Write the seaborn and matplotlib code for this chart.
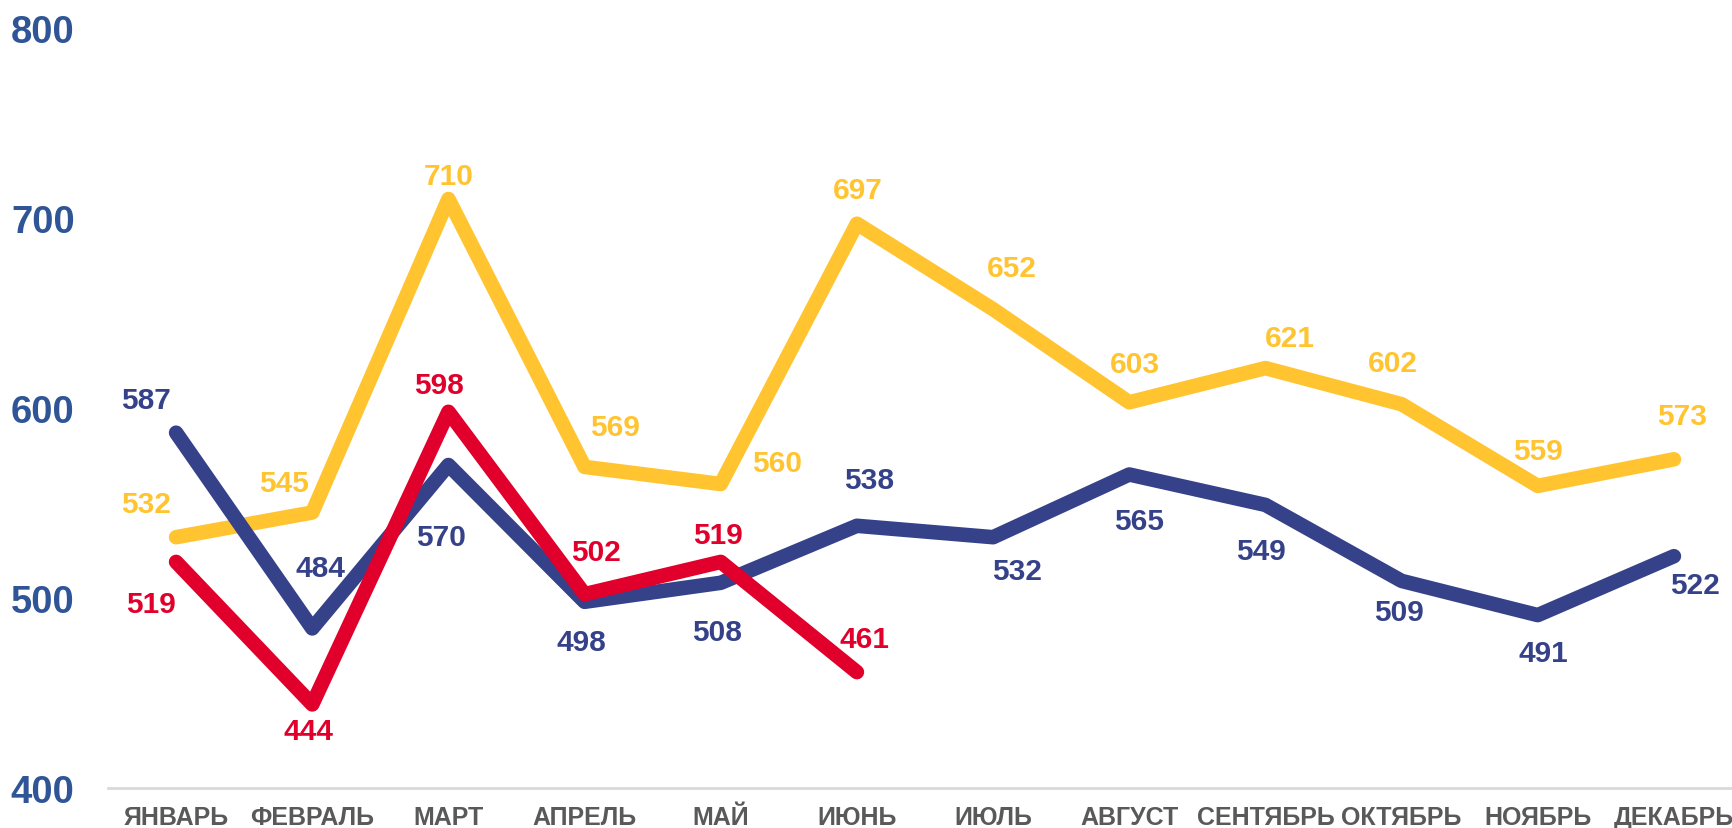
import matplotlib
matplotlib.use("Agg")
import matplotlib.pyplot as plt
import seaborn as sns
import pandas as pd

months = ["ЯНВАРЬ", "ФЕВРАЛЬ", "МАРТ", "АПРЕЛЬ", "МАЙ", "ИЮНЬ", "ИЮЛЬ",
          "АВГУСТ", "СЕНТЯБРЬ", "ОКТЯБРЬ", "НОЯБРЬ", "ДЕКАБРЬ"]
yellow_vals = [532, 545, 710, 569, 560, 697, 652, 603, 621, 602, 559, 573]
navy_vals = [587, 484, 570, 498, 508, 538, 532, 565, 549, 509, 491, 522]
red_vals = [519, 444, 598, 502, 519, 461]
y_ticks = [400, 500, 600, 700, 800]

# label offsets in pixels (dx, dy up)
yellow_off = [(-30, 33), (-28, 30), (0, 23), (30, 40), (56, 21), (1, 34), (19, 41),
              (6, 38), (24, 30), (-9, 41), (0, 35), (8, 43)]
navy_off = [(-30, 33), (8, 60), (-7, -72), (-3, -40), (-4, -49), (12, 46), (24, -34),
            (10, -47), (-4, -46), (-3, -31), (6, -38), (21, -29)]
red_off = [(-25, -42), (-4, -27), (-9, 27), (11, 42), (-3, 27), (8, 33)]

YELLOW = "#FFC430"
NAVY = "#354289"
RED = "#E0002B"

sns.set_style("white")
plt.rcParams["font.family"] = ["Liberation Sans", "DejaVu Sans"]

fig = plt.figure(figsize=(17.32, 8.29), dpi=100)
ax = fig.add_axes([108 / 1732, 1 - 789 / 829, 1634 / 1732, (789 - 29) / 829])

series = [(yellow_vals, YELLOW, yellow_off), (navy_vals, NAVY, navy_off), (red_vals, RED, red_off)]
for z, (vals, col, offs) in enumerate(series):
    df = pd.DataFrame({"x": list(range(len(vals))), "y": vals})
    sns.lineplot(data=df, x="x", y="y", ax=ax, color=col, linewidth=10.5,
                 solid_capstyle="round", solid_joinstyle="round", zorder=2 + z,
                 clip_on=False)
    for i, v in enumerate(vals):
        ax.annotate(str(v), (i, v), xytext=offs[i], textcoords="offset pixels",
                    ha="center", va="center", fontsize=21.5, fontweight="bold",
                    color=col, zorder=10, annotation_clip=False)

ax.set_xlim(-0.5, 11.5)
ax.set_ylim(400, 800)
ax.set_xticks(range(len(months)))
ax.set_xticklabels(months, fontsize=18, fontweight="bold", color="#595959")
ax.set_yticks(y_ticks)
ax.set_yticklabels([str(t) for t in y_ticks], fontsize=27.5, fontweight="bold", color="#2F5597")
ax.tick_params(axis="x", length=0, pad=12)
ax.tick_params(axis="y", length=0, pad=24)
ax.set_xlabel("")
ax.set_ylabel("")
for s in ["top", "left", "right"]:
    ax.spines[s].set_visible(False)
ax.spines["bottom"].set_color("#D9D9D9")
ax.spines["bottom"].set_linewidth(2)
ax.grid(False)

fig.savefig("out.png", dpi=100)
